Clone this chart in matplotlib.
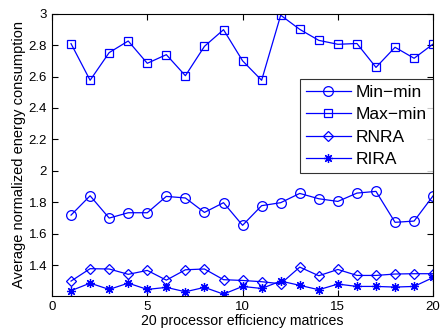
import matplotlib
matplotlib.use("Agg")
import matplotlib.pyplot as plt

plt.rcParams['font.family'] = ['Liberation Sans', 'DejaVu Sans']

x = list(range(1, 21))
min_min = [1.718, 1.841, 1.699, 1.733, 1.733, 1.837, 1.827, 1.735, 1.797, 1.653,
           1.778, 1.797, 1.856, 1.822, 1.805, 1.858, 1.869, 1.672, 1.680, 1.841]
max_min = [2.809, 2.576, 2.752, 2.826, 2.684, 2.739, 2.605, 2.792, 2.898, 2.700,
           2.576, 2.990, 2.900, 2.830, 2.805, 2.810, 2.658, 2.786, 2.716, 2.807]
rnra = [1.298, 1.377, 1.375, 1.341, 1.366, 1.304, 1.370, 1.375, 1.307, 1.302,
        1.294, 1.281, 1.387, 1.332, 1.372, 1.334, 1.334, 1.343, 1.345, 1.345]
rira = [1.237, 1.285, 1.245, 1.285, 1.245, 1.258, 1.230, 1.258, 1.215, 1.264,
        1.251, 1.298, 1.271, 1.243, 1.279, 1.264, 1.264, 1.260, 1.264, 1.321]

xticks = [0, 5, 10, 15, 20]
yticks = [1.4, 1.6, 1.8, 2.0, 2.2, 2.4, 2.6, 2.8, 3.0]
ytick_labels = ['1.4', '1.6', '1.8', '2', '2.2', '2.4', '2.6', '2.8', '3']

fig = plt.figure(figsize=(4.42, 3.33), dpi=100)
ax = fig.add_axes([0.1176, 0.112, 0.8624, 0.847])
c = '#0000ff'
ax.plot(x, min_min, '-o', color=c, lw=0.9, ms=7, mfc='none', mew=0.9, label='Min\u2212min')
ax.plot(x, max_min, '-s', color=c, lw=0.9, ms=6, mfc='none', mew=0.9, label='Max\u2212min')
ax.plot(x, rnra, '-D', color=c, lw=0.9, ms=5.5, mfc='none', mew=0.9, label='RNRA')
ax.plot(x, rira, '-', marker=(8, 2, 0), color=c, lw=0.9, ms=6.5, mew=0.9, label='RIRA')

ax.set_xlim(0, 20)
ax.set_ylim(1.205, 3.0)
ax.set_xticks(xticks)
ax.set_yticks(yticks)
ax.set_yticklabels(ytick_labels)
ax.tick_params(direction='in', top=True, right=True, labelsize=9.5, length=4, width=0.8)
for s in ax.spines.values():
    s.set_linewidth(0.8)
ax.set_xlabel('20 processor efficiency matrices', fontsize=10.2, labelpad=1)
ax.set_ylabel('Average normalized energy consumption', fontsize=10.5, labelpad=2)

leg = ax.legend(loc='upper right', bbox_to_anchor=(1.0, 0.77), fontsize=12.5,
                frameon=True, fancybox=False, edgecolor='black', borderpad=0.35,
                handlelength=2.6, handletextpad=0.3, labelspacing=0.42, borderaxespad=0)
leg.get_frame().set_linewidth(0.8)

fig.savefig('out.png', dpi=100)
